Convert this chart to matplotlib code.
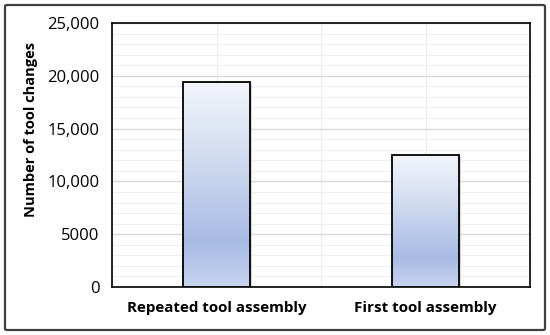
import matplotlib.pyplot as plt
import numpy as np
from matplotlib.patches import FancyBboxPatch
from matplotlib.ticker import FuncFormatter, MultipleLocator
from matplotlib.colors import LinearSegmentedColormap

categories = ["Repeated tool assembly", "First tool assembly"]
tool_changes = [19400, 12500]

plt.rcParams['font.family'] = ['Open Sans', 'DejaVu Sans']

fig = plt.figure(figsize=(5.5, 3.35), dpi=100)
ax = fig.add_axes([112 / 550, 1 - 287 / 335, 418 / 550, 264 / 335])

# outer frame
frame = FancyBboxPatch((5 / 550, 5 / 335), 540 / 550, 325 / 335,
                       boxstyle="round,pad=0,rounding_size=0.004",
                       transform=fig.transFigure, fill=False,
                       edgecolor="#404040", linewidth=1.6)
fig.patches.append(frame)

x = np.arange(len(categories))
width = 0.32
bars = ax.bar(x, tool_changes, width=width, facecolor="none",
              edgecolor="black", linewidth=1.3, zorder=4)

cmap = LinearSegmentedColormap.from_list(
    "bar", [(0.0, "#f3f5fb"), (0.35, "#d3ddf1"), (0.78, "#a8bbe4"), (1.0, "#c7d4ef")])
grad = np.linspace(0, 1, 256).reshape(-1, 1)
for b in bars:
    x0, y0 = b.get_x(), b.get_y()
    w, h = b.get_width(), b.get_height()
    # shadow
    ax.bar(x0 + w / 2 + 0.012, h, width=w, bottom=-150, color="#b0b0b0",
           alpha=0.5, zorder=2, linewidth=0)
    im = ax.imshow(grad, cmap=cmap, aspect="auto", extent=(x0, x0 + w, y0, y0 + h),
                   origin="upper", zorder=3)
    im.set_clip_path(b)

ax.set_xlim(-0.5, 1.5)
ax.set_ylim(0, 25000)
ax.yaxis.set_major_locator(MultipleLocator(5000))
ax.yaxis.set_minor_locator(MultipleLocator(1000))
ax.yaxis.set_major_formatter(FuncFormatter(
    lambda v, p: "0" if v == 0 else ("5000" if v == 5000 else f"{int(v):,}")))
ax.set_xticks(x)
ax.set_xticklabels(categories, fontweight="bold", fontsize=10.9)
ax.set_xticks([-0.5, 0.5, 1.5], minor=True)

ax.grid(axis="y", which="major", color="#d9d9d9", linewidth=1.0, zorder=0)
ax.grid(axis="y", which="minor", color="#efefef", linewidth=0.8, zorder=0)
ax.grid(axis="x", which="both", color="#ececec", linewidth=0.8, zorder=0)
ax.set_axisbelow(True)

ax.tick_params(axis="both", which="both", length=0)
ax.tick_params(axis="y", labelsize=12, pad=9)
ax.tick_params(axis="x", pad=10)
for s in ax.spines.values():
    s.set_color("black")
    s.set_linewidth(1.2)

ax.set_ylabel("Number of tool changes", fontweight="bold", fontsize=10.5)
ax.yaxis.set_label_coords(-0.177, 0.595)

fig.savefig("out.png", dpi=100)
